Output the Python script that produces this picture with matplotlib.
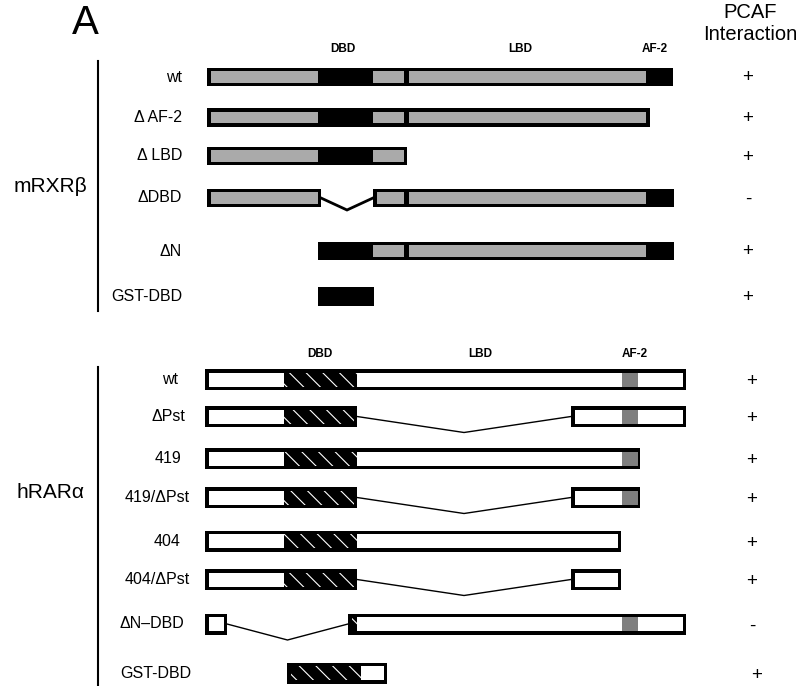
import matplotlib
matplotlib.use("Agg")
import matplotlib.pyplot as plt
from matplotlib.patches import Rectangle

plt.rcParams['font.family'] = ['Liberation Sans', 'DejaVu Sans']
plt.rcParams['hatch.linewidth'] = 0.8

# --- dane: domeny (pozycje wzdluz osi x schematu) ---
rxr_bounds = [207, 318, 373, 406.5, 646, 673]
rxr_fills = ['gray', 'black', 'gray', 'gray', 'black']
rxr_dividers = [406.5]

rar_bounds = [205, 284, 357, 622, 638, 686]
rar_fills = ['white', 'hatch', 'white', 'af2', 'white']

# konstrukty: nazwa, zachowane fragmenty, wynik oddzialywania z PCAF
rxr_names = ['wt', 'Δ AF-2', 'Δ LBD', 'ΔDBD', 'ΔN', 'GST-DBD']
rxr_segments = [
    [(207, 673)],
    [(207, 650)],
    [(207, 407)],
    [(207, 321), (373, 674)],
    [(318, 674)],
    [(318, 374)],
]
rxr_pcaf = ['+', '+', '+', '-', '+', '+']
rxr_rows = [77, 117.5, 156, 198, 251, 296.5]

rar_names = ['wt', 'ΔPst', '419', '419/ΔPst', '404', '404/ΔPst', 'ΔN–DBD', 'GST-DBD']
rar_segments = [
    [(205, 686)],
    [(205, 357), (571, 686)],
    [(205, 640)],
    [(205, 357), (571, 640)],
    [(205, 621)],
    [(205, 357), (571, 621)],
    [(205, 227), (348, 686)],
    [(287, 387)],
]
rar_pcaf = ['+', '+', '+', '+', '+', '+', '-', '+']
rar_rows = [379.5, 416.5, 458.5, 497.5, 541, 579.5, 624, 673]
gst_bounds = [287, 361, 387]
gst_fills = ['hatch', 'white']

COLORS = {'gray': '#aaaaaa', 'black': 'black', 'white': 'white', 'af2': '#7f7f7f'}


def draw_construct(ax, yc, h, segments, bounds, fills, dividers=(), border=3.5, dip=14, vlw=1.0):
    for (s, e) in segments:
        ax.add_patch(Rectangle((s, yc - h / 2), e - s, h, facecolor='black', lw=0))
        for i, f in enumerate(fills):
            d0, d1 = bounds[i], bounds[i + 1]
            x0, x1 = max(s, d0), min(e, d1)
            if x0 == s:
                x0 += border
            if x1 == e:
                x1 -= border
            if d0 in dividers and x0 == d0:
                x0 += 2.5
            if d1 in dividers and x1 == d1:
                x1 -= 2.5
            if x1 <= x0 or f == 'black':
                continue
            if f == 'hatch':
                ax.add_patch(Rectangle((x0, yc - h / 2 + border), x1 - x0, h - 2 * border,
                                       facecolor='black', edgecolor='white', lw=0, hatch='\\\\'))
            else:
                ax.add_patch(Rectangle((x0, yc - h / 2 + border), x1 - x0, h - 2 * border,
                                       facecolor=COLORS[f], lw=0))
    # delecje - linia w ksztalcie V
    for (a, b) in zip(segments[:-1], segments[1:]):
        xa, xb = a[1], b[0]
        ax.plot([xa, (xa + xb) / 2, xb], [yc, yc + dip, yc], color='black', lw=vlw,
                solid_joinstyle='miter')


fig = plt.figure(figsize=(8, 6.86), dpi=100)
ax = fig.add_axes([0, 0, 1, 1])
ax.set_xlim(0, 800)
ax.set_ylim(686, 0)
ax.axis('off')

ax.text(85, 23, 'A', fontsize=29, ha='center', va='center')
ax.text(750, 12, 'PCAF', fontsize=14.5, ha='center', va='center')
ax.text(750, 34, 'Interaction', fontsize=14.5, ha='center', va='center')

# mRXRbeta
ax.plot([98, 98], [61, 311], color='black', lw=1.5)
ax.text(50, 187, 'mRXRβ', fontsize=15, ha='center', va='center')
for lbl, x in zip(['DBD', 'LBD', 'AF-2'], [343, 520, 655]):
    ax.text(x, 49, lbl, fontsize=8.5, fontweight='bold', ha='center', va='center')
for name, segs, sign, yc in zip(rxr_names, rxr_segments, rxr_pcaf, rxr_rows):
    draw_construct(ax, yc, 18.5, segs, rxr_bounds, rxr_fills, rxr_dividers,
                   border=3.7, dip=12, vlw=2.0)
    ax.text(182, yc, name, fontsize=11.5, ha='right', va='center')
    ax.text(748, yc + 1, sign, fontsize=13.5, ha='center', va='center')

# hRARalpha
ax.plot([98, 98], [367, 686], color='black', lw=1.5)
ax.text(50, 493, 'hRARα', fontsize=15, ha='center', va='center')
for lbl, x in zip(['DBD', 'LBD', 'AF-2'], [320, 480, 635]):
    ax.text(x, 354, lbl, fontsize=8.5, fontweight='bold', ha='center', va='center')
label_right = [178, 185, 181, 190, 181, 190, 184, 191]
for i, (name, segs, sign, yc) in enumerate(zip(rar_names, rar_segments, rar_pcaf, rar_rows)):
    if name == 'GST-DBD':
        draw_construct(ax, yc, 21, segs, gst_bounds, gst_fills, border=3.5)
    else:
        draw_construct(ax, yc, 21, segs, rar_bounds, rar_fills, border=3.5, dip=16, vlw=1.0)
    ax.text(label_right[i], yc, name, fontsize=11.5, ha='right', va='center')
    sx = 757 if name == 'GST-DBD' else 752
    ax.text(sx, yc + 2, sign, fontsize=13.5, ha='center', va='center')

fig.savefig('out.png', dpi=100)
